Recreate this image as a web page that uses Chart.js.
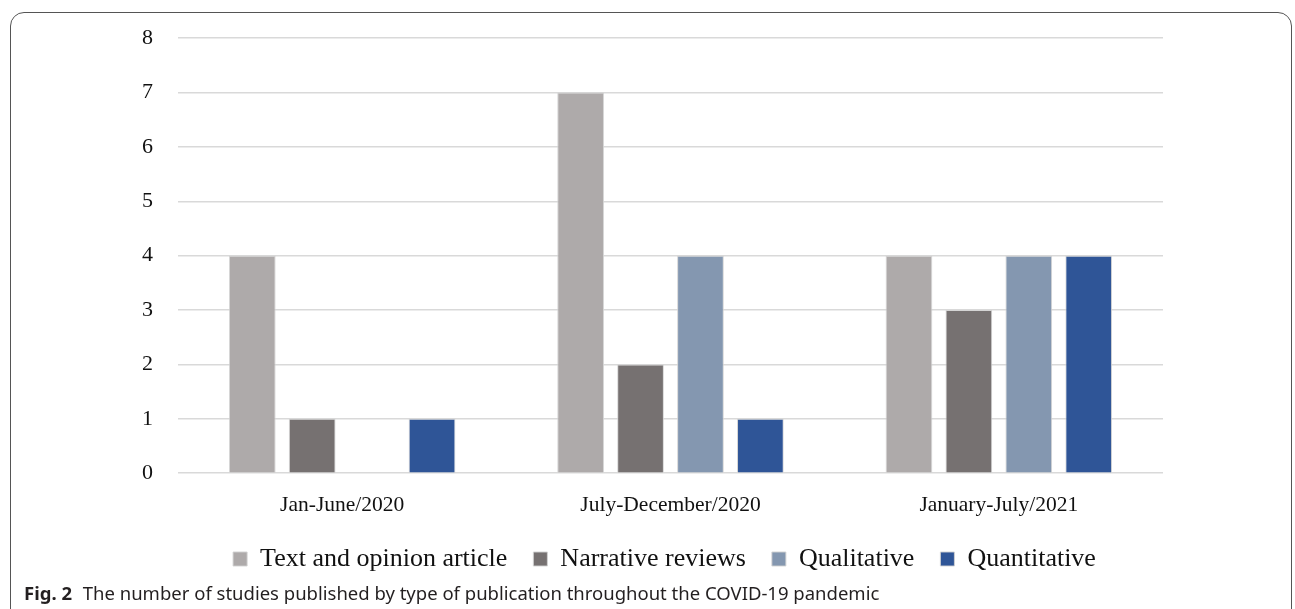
<!DOCTYPE html>
<html>
<head>
<meta charset="utf-8">
<script src="https://cdn.jsdelivr.net/npm/chart.js@4.4.1/dist/chart.umd.min.js"></script>
<style>
  html, body { margin: 0; padding: 0; background: #fff; }
  body { width: 1295px; height: 609px; position: relative; overflow: hidden; }
  #frame {
    position: absolute; left: 10px; top: 12px; width: 1282px; height: 700px;
    border: 1.5px solid #555; border-radius: 14px 14px 0 0; box-sizing: border-box;
  }
  #wrap { position: absolute; left: 114px; top: 0px; width: 1100px; height: 600px; }
  #caption {
    position: absolute; left: 24px; top: 580px; font-family: "Noto Sans", sans-serif;
    font-size: 18.5px; color: #231f20; white-space: nowrap;
  }
  #caption b { margin-right: 6px; }
</style>
</head>
<body>
<div id="frame"></div>
<div id="wrap"><canvas id="chart"></canvas></div>
<div id="caption"><b>Fig. 2</b> The number of studies published by type of publication throughout the COVID-19 pandemic</div>
<script>
// periods on the x axis
const periods = ['Jan-June/2020', 'July-December/2020', 'January-July/2021'];

// number of studies per publication type
const textOpinion = [4, 7, 4];
const narrativeReviews = [1, 2, 3];
const qualitative = [0, 4, 4];
const quantitative = [1, 1, 4];

const yTicks = [0, 1, 2, 3, 4, 5, 6, 7, 8];

const serif = '"Liberation Serif", "Times New Roman", serif';

function series(label, data, color) {
  return {
    label,
    data,
    backgroundColor: color,
    borderColor: 'rgba(210, 210, 210, 0.9)',
    borderWidth: 1,
    categoryPercentage: 0.73,
    barPercentage: 0.78,
  };
}

// nudge the legend: closer to the axis labels and centred under the plot
const legendNudge = {
  id: 'legendNudge',
  afterLayout(chart) {
    const lg = chart.legend;
    lg.top -= 9;
    lg.bottom -= 9;
    lg.left += 26;
    lg.right += 26;
  },
};

new Chart(document.getElementById('chart'), {
  type: 'bar',
  data: {
    labels: periods,
    datasets: [
      series('Text and opinion article', textOpinion, '#AEAAAA'),
      series('Narrative reviews', narrativeReviews, '#767171'),
      series('Qualitative', qualitative, '#8497B0'),
      series('Quantitative', quantitative, '#2F5597'),
    ],
  },
  plugins: [legendNudge],
  options: {
    responsive: true,
    maintainAspectRatio: false,
    animation: false,
    layout: { padding: { top: 7, right: 51, bottom: 9, left: 0 } },
    plugins: {
      tooltip: { enabled: false },
      legend: {
        position: 'bottom',
        labels: {
          color: '#111',
          font: { family: serif, size: 26 },
          boxWidth: 14,
          boxHeight: 14,
          padding: 26,
        },
      },
    },
    scales: {
      x: {
        grid: { display: false },
        border: { display: false },
        ticks: { color: '#111', font: { family: serif, size: 21.5 }, padding: 11 },
      },
      y: {
        min: 0,
        max: 8,
        afterFit(axis) { axis.width = 64; },
        afterBuildTicks(axis) { axis.ticks = yTicks.map((v) => ({ value: v })); },
        grid: { color: '#d9d9d9', lineWidth: 1.5, drawTicks: false },
        border: { display: false },
        ticks: { color: '#111', font: { family: serif, size: 22 }, padding: 25 },
      },
    },
  },
});
</script>
</body>
</html>
